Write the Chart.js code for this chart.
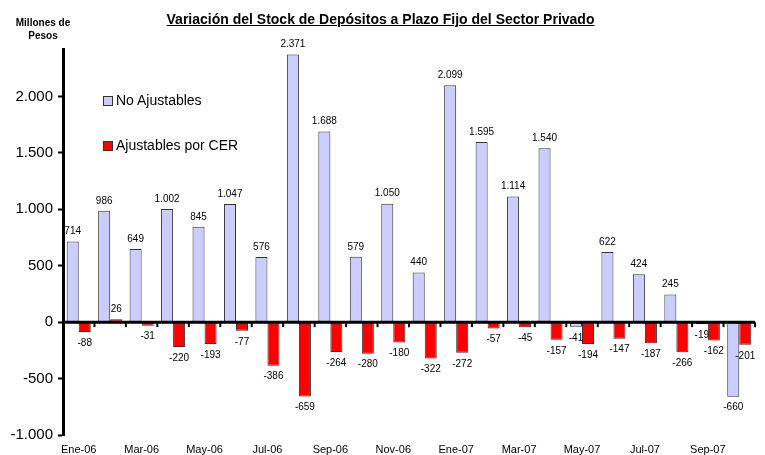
<!DOCTYPE html>
<html>
<head>
<meta charset="utf-8">
<script src="https://cdn.jsdelivr.net/npm/chart.js@4"></script>
<style>
  body { margin: 0; background: #fff; font-family: "Liberation Sans", Arial, sans-serif; }
  #wrap { position: relative; width: 765px; height: 455px; }
  #title { position: absolute; left: 0; top: 11px; width: 761px; text-align: center;
           font-size: 14px; font-weight: bold; line-height: 16px; text-decoration: underline; color: #000; }
  #units { position: absolute; left: 3px; top: 16px; width: 80px; text-align: center;
           font-size: 10px; font-weight: bold; line-height: 13px; color: #000; }
  #legend { position: absolute; left: 103px; top: 91px; font-size: 14px; color: #000; }
  .lg-item { position: relative; height: 45px; line-height: 18px; padding-left: 13px; white-space: nowrap; }
  .lg-box { position: absolute; left: 0; top: 5px; width: 8px; height: 8px; border: 1px solid #333; }
</style>
</head>
<body>
<div id="wrap">
  <canvas id="c" width="765" height="455"></canvas>
  <div id="title">Variación del Stock de Depósitos a Plazo Fijo del Sector Privado</div>
  <div id="units">Millones de<br>Pesos</div>
  <div id="legend"></div>
</div>
<script>
/* --- Data --- */
var months = ['Ene-06', 'Feb-06', 'Mar-06', 'Abr-06', 'May-06', 'Jun-06', 'Jul-06', 'Ago-06',
              'Sep-06', 'Oct-06', 'Nov-06', 'Dic-06', 'Ene-07', 'Feb-07', 'Mar-07', 'Abr-07',
              'May-07', 'Jun-07', 'Jul-07', 'Ago-07', 'Sep-07', 'Oct-07'];
var noAjustables = [714, 986, 649, 1002, 845, 1047, 576, 2371, 1688, 579, 1050, 440,
                    2099, 1595, 1114, 1540, -41, 622, 424, 245, -19, -660];
var ajustablesCER = [-88, 26, -31, -220, -193, -77, -386, -659, -264, -280, -180, -322,
                     -272, -57, -45, -157, -194, -147, -187, -266, -162, -201];
var seriesNames = ['No Ajustables', 'Ajustables por CER'];
var seriesColors = ['#ccccff', '#ff0000'];
var yTicks = [-1000, -500, 0, 500, 1000, 1500, 2000];
var yMin = -1000, yMax = 2420;

var FONT = '"Liberation Sans", Arial, sans-serif';

function fmt(v) {
  var s = Math.abs(v).toString().replace(/\B(?=(\d{3})+(?!\d))/g, '.');
  return (v < 0 ? '-' : '') + s;
}

/* --- HTML legend --- */
var lg = document.getElementById('legend');
for (var i = 0; i < seriesNames.length; i++) {
  var it = document.createElement('div');
  it.className = 'lg-item';
  it.innerHTML = '<span class="lg-box" style="background:' + seriesColors[i] + '"></span>' + seriesNames[i];
  lg.appendChild(it);
}

/* --- zero line, category ticks and value labels --- */
var overlayPlugin = {
  id: 'overlay',
  afterDatasetsDraw: function(chart) {
    var ctx = chart.ctx;
    var x = chart.scales.x, y = chart.scales.y;
    var y0 = y.getPixelForValue(0);
    ctx.save();
    ctx.strokeStyle = '#000';
    ctx.lineWidth = 3;
    ctx.beginPath();
    ctx.moveTo(chart.chartArea.left, y0);
    ctx.lineTo(chart.chartArea.right, y0);
    ctx.stroke();
    ctx.lineWidth = 2;
    var n = months.length;
    for (var k = 1; k <= n; k++) {
      var bx = k < n ? (x.getPixelForValue(k - 1) + x.getPixelForValue(k)) / 2
                     : x.getPixelForValue(n - 1) + (x.getPixelForValue(1) - x.getPixelForValue(0)) / 2;
      ctx.beginPath();
      ctx.moveTo(bx, y0);
      ctx.lineTo(bx, y0 + 5);
      ctx.stroke();
    }
    ctx.fillStyle = '#000';
    ctx.font = '10px ' + FONT;
    ctx.textAlign = 'center';
    ctx.textBaseline = 'middle';
    chart.data.datasets.forEach(function(ds, di) {
      var meta = chart.getDatasetMeta(di);
      meta.data.forEach(function(bar, j) {
        var v = ds.data[j];
        var ty = v >= 0 ? bar.y - 10 : bar.y + 11;
        ctx.fillText(fmt(v), bar.x, ty);
      });
    });
    ctx.restore();
  }
};

new Chart(document.getElementById('c'), {
  type: 'bar',
  data: {
    labels: months,
    datasets: [
      { label: seriesNames[0], data: noAjustables, backgroundColor: seriesColors[0],
        borderColor: '#333', borderWidth: 1, borderSkipped: false },
      { label: seriesNames[1], data: ajustablesCER, backgroundColor: seriesColors[1],
        borderColor: '#333', borderWidth: 1, borderSkipped: false }
    ]
  },
  options: {
    responsive: false,
    animation: false,
    events: [],
    layout: { padding: { top: 49, right: 10, left: 0, bottom: 0 } },
    datasets: { bar: { categoryPercentage: 0.765, barPercentage: 1 } },
    plugins: { legend: { display: false }, tooltip: { enabled: false } },
    scales: {
      x: {
        grid: { display: false, drawTicks: false },
        border: { display: false },
        ticks: {
          autoSkip: false, maxRotation: 0, padding: 8, color: '#000',
          font: { family: FONT, size: 11 },
          callback: function(v, idx) { return idx % 2 === 0 ? months[idx] : ''; }
        },
        afterFit: function(s) { s.height = 20; }
      },
      y: {
        min: yMin, max: yMax,
        grid: { drawOnChartArea: false, drawTicks: true, tickLength: 5, tickColor: '#000', tickWidth: 2 },
        border: { color: '#000', width: 3 },
        ticks: {
          autoSkip: false, padding: 5, color: '#000',
          font: { family: FONT, size: 15 },
          callback: function(v) { return fmt(v); }
        },
        afterBuildTicks: function(s) {
          s.ticks = yTicks.map(function(v) { return { value: v }; });
        },
        afterFit: function(s) { s.width = 63; }
      }
    }
  },
  plugins: [overlayPlugin]
});
</script>
</body>
</html>
